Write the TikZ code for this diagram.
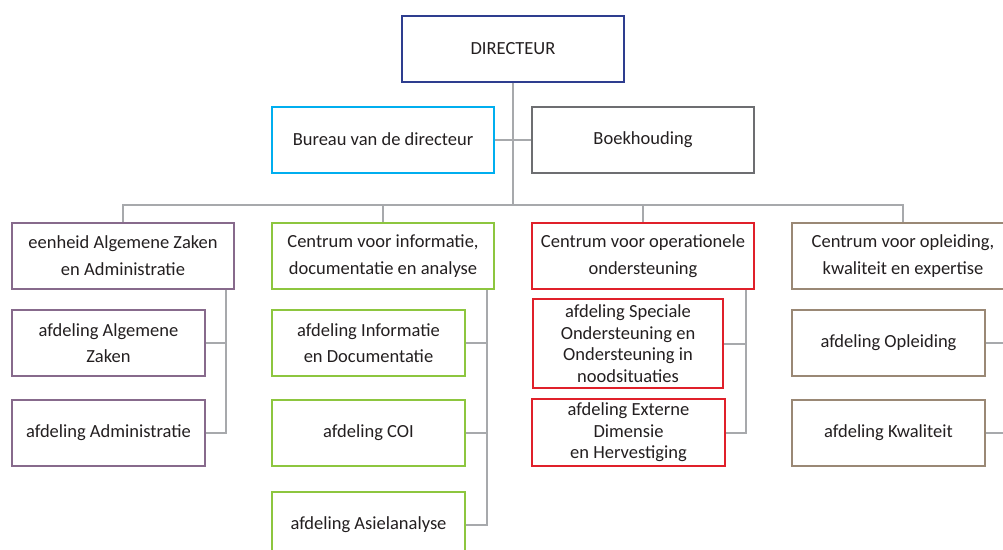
\documentclass[tikz,border=0pt]{standalone}
\usepackage{fontspec}
\setmainfont{Carlito}
\usepackage{tikz}

\definecolor{navy}{HTML}{2E3D8F}
\definecolor{cyanbox}{HTML}{00AEEF}
\definecolor{graybox}{HTML}{6D6E71}
\definecolor{purplebox}{HTML}{876A8C}
\definecolor{greenbox}{HTML}{8DC63F}
\definecolor{redbox}{HTML}{E0202A}
\definecolor{brownbox}{HTML}{9A8875}
\definecolor{linkgray}{HTML}{A7A9AC}
\definecolor{txt}{HTML}{231F20}

\tikzset{
  box/.style={draw, line width=2pt, fill=white, align=center, inner sep=0pt,
    minimum width=222pt, minimum height=66pt, text=txt,
    font=\fontsize{18.5}{27}\selectfont},
  subbox/.style={box, minimum width=193pt, minimum height=66pt},
  link/.style={draw=linkgray, line width=2pt},
}

\begin{document}
\begin{tikzpicture}[x=1pt,y=-1pt]
            \useasboundingbox (0,0) rectangle (1003,549);
            % top
            \node [box, draw=navy] (dir) at (513,48.5) {DIRECTEUR};
            \node [box, draw=cyanbox] (bureau) at (383,139.5) {Bureau van de directeur};
            \node [box, draw=graybox] (boek) at (643,139.5) {Boekhouding};
            \coordinate (bar) at (513,205);
            % centres
            \node [box, draw=purplebox] (eenheid) at (123,256) {eenheid Algemene Zaken\\en Administratie};
            \node [box, draw=greenbox] (cida) at (383,256) {Centrum voor informatie,\\documentatie en analyse};
            \node [box, draw=redbox] (cos) at (643,256) {Centrum voor operationele\\ondersteuning};
            \node [box, draw=brownbox] (cok) at (903,256) {Centrum voor opleiding,\\kwaliteit en expertise};
            % afdelingen
            \node [subbox, draw=purplebox, font=\fontsize{18.5}{26}\selectfont] (afdAZ) at (108.5,343) {afdeling Algemene\\Zaken};
            \node [subbox, draw=purplebox] (afdAdm) at (108.5,432.5) {afdeling Administratie};
            \node [subbox, draw=greenbox, font=\fontsize{18.5}{26}\selectfont] (afdID) at (368.5,343) {afdeling Informatie\\en Documentatie};
            \node [subbox, draw=greenbox] (afdCOI) at (368.5,432.5) {afdeling COI};
            \node [subbox, draw=greenbox] (afdAsiel) at (368.5,524.5) {afdeling Asielanalyse};
            \node [subbox, draw=redbox, minimum width=190pt, minimum height=89pt,
                   font=\fontsize{18.5}{21.5}\selectfont] (afdSOO) at (628,343.5)
                  {afdeling Speciale\\Ondersteuning en\\Ondersteuning in\\noodsituaties};
            \node [subbox, draw=redbox, minimum height=67pt,
                   font=\fontsize{18.5}{21.5}\selectfont] (afdEDH) at (628.5,432.5)
                  {afdeling Externe\\Dimensie\\en Hervestiging};
            \node [subbox, draw=brownbox] (afdOpl) at (888.5,343) {afdeling Opleiding};
            \node [subbox, draw=brownbox] (afdKwal) at (888.5,432.5) {afdeling Kwaliteit};
            % lijnen
            \begin{scope}[on background layer/.try]
            \draw [link] (dir.south) -- (bar);
            \draw [link] (bureau.east) -- (boek.west);
            \draw [link] (bar) -| (eenheid.north);
            \draw [link] (bar) -| (cida.north);
            \draw [link] (bar) -| (cos.north);
            \draw [link] (bar) -| (cok.north);
            \coordinate (sp1) at ([xshift=-9pt]eenheid.south east);
            \coordinate (sp2) at ([xshift=-8pt]cida.south east);
            \coordinate (sp3) at ([xshift=-9pt]cos.south east);
            \coordinate (sp4) at ([xshift=-9pt]cok.south east);
            \draw [link] (sp1) |- (afdAdm.east);
            \draw [link] (afdAZ.east) -- (afdAZ.east -| sp1);
            \draw [link] (sp2) |- (afdAsiel.east);
            \draw [link] (afdID.east) -- (afdID.east -| sp2);
            \draw [link] (afdCOI.east) -- (afdCOI.east -| sp2);
            \draw [link] (sp3) |- (afdEDH.east);
            \draw [link] (afdSOO.east) -- (afdSOO.east -| sp3);
            \draw [link] (sp4) |- (afdKwal.east);
            \draw [link] (afdOpl.east) -- (afdOpl.east -| sp4);
            \end{scope}
\end{tikzpicture}
\end{document}
